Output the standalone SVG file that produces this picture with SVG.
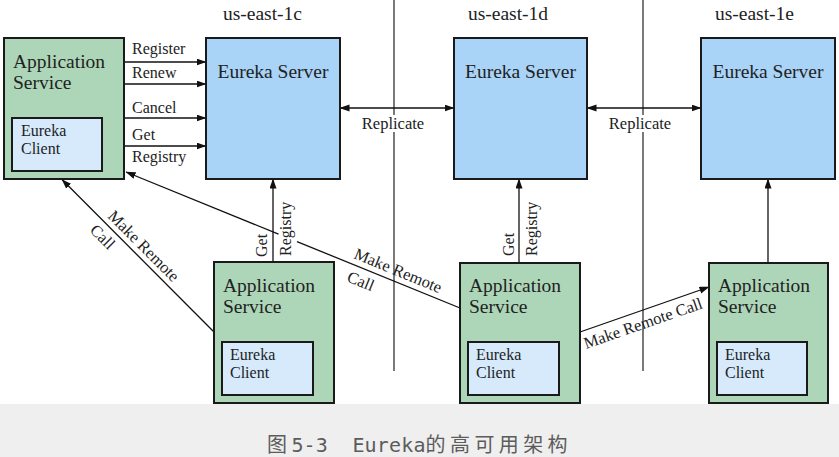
<svg xmlns="http://www.w3.org/2000/svg" width="839" height="457" viewBox="0 0 839 457">
<defs>
<marker id="ah" markerUnits="userSpaceOnUse" markerWidth="10" markerHeight="8" refX="9.5" refY="3.5" orient="auto-start-reverse">
<path d="M0,0 L10,3.5 L0,7 z" fill="#111"/>
</marker>
<style>
.app{fill:#acd6b7;stroke:#1a1a1a;stroke-width:2}
.cli{fill:#d6eafc;stroke:#1a1a1a;stroke-width:2}
.srv{fill:#a9d4f8;stroke:#1a1a1a;stroke-width:2}
.t{font-family:"Liberation Serif","Times New Roman",serif;fill:#222}
.big{font-size:19.5px}
.mid{font-size:16px}
.lbl{font-size:16.5px}
.ln{stroke:#111;stroke-width:1.3;fill:none}
.zone{stroke:#222;stroke-width:1.2;fill:none}
.arr{stroke:#111;stroke-width:1.3;fill:none;marker-end:url(#ah)}
.arr2{stroke:#111;stroke-width:1.3;fill:none;marker-end:url(#ah);marker-start:url(#ah)}
</style>
</defs>
<rect x="0" y="0" width="839" height="404" fill="#ffffff"/>
<rect x="0" y="404" width="839" height="53" fill="#efefef"/>

<g id="zones">
<path class="zone" d="M394,0 V115 M394,132 V371 M643,0 V115 M643,132 V371"/>
<text class="t big" x="262.5" y="20" text-anchor="middle">us-east-1c</text>
<text class="t big" x="508" y="20" text-anchor="middle">us-east-1d</text>
<text class="t big" x="754.5" y="20" text-anchor="middle">us-east-1e</text>
</g>

<g id="connectors">
<line class="arr" x1="124" y1="62" x2="206" y2="62"/>
<line class="arr" x1="124" y1="84" x2="206" y2="84"/>
<line class="arr" x1="124" y1="118" x2="206" y2="118"/>
<line class="arr" x1="124" y1="146" x2="206" y2="146"/>
<text class="t mid" x="132" y="54">Register</text>
<text class="t mid" x="132" y="78">Renew</text>
<text class="t mid" x="132" y="113">Cancel</text>
<text class="t mid" x="132" y="140">Get</text>
<text class="t mid" x="132" y="162">Registry</text>

<line class="arr2" x1="340" y1="108" x2="454" y2="108"/>
<line class="arr2" x1="587" y1="108" x2="701" y2="108"/>
<text class="t lbl" x="393" y="129" text-anchor="middle">Replicate</text>
<text class="t lbl" x="640" y="129" text-anchor="middle">Replicate</text>

<line class="arr" x1="273" y1="262" x2="273" y2="179"/>
<line class="arr" x1="519" y1="263" x2="519" y2="179"/>
<line class="arr" x1="768" y1="263" x2="768" y2="179"/>
<text class="t mid" transform="translate(267,257) rotate(-90)">Get</text>
<text class="t mid" transform="translate(291,256) rotate(-90)">Registry</text>
<text class="t mid" transform="translate(514,256) rotate(-90)">Get</text>
<text class="t mid" transform="translate(537,256) rotate(-90)">Registry</text>

<line class="arr" x1="214" y1="332" x2="62" y2="179.5"/>
<text class="t lbl" transform="translate(107,217) rotate(45)">Make Remote</text>
<text class="t lbl" transform="translate(89,231) rotate(45)">Call</text>

<line class="ln" x1="460" y1="308" x2="297" y2="241.6"/>
<line class="arr" x1="278.5" y1="234.1" x2="126" y2="172"/>
<text class="t lbl" transform="translate(353,258) rotate(22.2)">Make Remote</text>
<text class="t lbl" transform="translate(346,281) rotate(22.2)">Call</text>

<line class="arr" x1="580" y1="332" x2="709" y2="287"/>
<text class="t lbl" transform="translate(586,349) rotate(-19.2)">Make Remote Call</text>
</g>

<g id="app-left">
<rect class="app" x="4" y="38" width="120" height="141"/>
<text class="t big" x="13" y="68">Application</text>
<text class="t big" x="13" y="89">Service</text>
<rect class="cli" x="12" y="118" width="90" height="53"/>
<text class="t mid" x="21" y="136">Eureka</text>
<text class="t mid" x="21" y="154">Client</text>
</g>

<g id="server-1c">
<rect class="srv" x="206" y="38" width="134" height="141"/>
<text class="t big" x="273" y="78" text-anchor="middle">Eureka Server</text>
</g>
<g id="server-1d">
<rect class="srv" x="454" y="38" width="133" height="141"/>
<text class="t big" x="520.5" y="78" text-anchor="middle">Eureka Server</text>
</g>
<g id="server-1e">
<rect class="srv" x="701" y="38" width="134" height="141"/>
<text class="t big" x="768" y="78" text-anchor="middle">Eureka Server</text>
</g>

<g id="app-1c">
<rect class="app" x="214" y="262" width="120" height="141"/>
<text class="t big" x="223" y="292">Application</text>
<text class="t big" x="223" y="313">Service</text>
<rect class="cli" x="222" y="342" width="91" height="53"/>
<text class="t mid" x="230" y="360">Eureka</text>
<text class="t mid" x="230" y="378">Client</text>
</g>
<g id="app-1d">
<rect class="app" x="460" y="263" width="120" height="140"/>
<text class="t big" x="469" y="292">Application</text>
<text class="t big" x="469" y="313">Service</text>
<rect class="cli" x="468" y="342" width="91" height="53"/>
<text class="t mid" x="476" y="360">Eureka</text>
<text class="t mid" x="476" y="378">Client</text>
</g>
<g id="app-1e">
<rect class="app" x="709" y="263" width="119" height="140"/>
<text class="t big" x="718" y="292">Application</text>
<text class="t big" x="718" y="313">Service</text>
<rect class="cli" x="717" y="342" width="90" height="53"/>
<text class="t mid" x="725" y="360">Eureka</text>
<text class="t mid" x="725" y="378">Client</text>
</g>

<g id="caption">
<text x="267 291.4 303.6 315.8 328 340.2 352.4 364.6 376.8 389 401.2 413.4 425.6 450 474.4 498.8 523.2 547.6" y="452" font-family="'DejaVu Sans Mono','Noto Sans CJK SC',monospace" font-size="20" fill="#5c5c5c" xml:space="preserve">图5-3  Eureka的高可用架构</text>
</g>
</svg>
